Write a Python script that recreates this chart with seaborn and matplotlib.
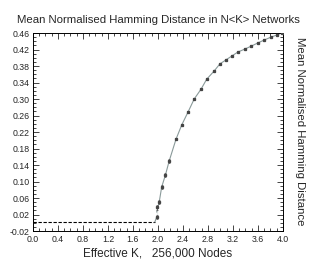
import numpy as np
import pandas as pd
import matplotlib
matplotlib.use("Agg")
import matplotlib.pyplot as plt
import seaborn as sns
from matplotlib.ticker import MultipleLocator

# Data
flat_k = [0.0, 0.4, 0.8, 1.2, 1.6, 1.95]
flat_d = [0.002, 0.002, 0.002, 0.002, 0.002, 0.002]

curve_k = [1.98, 1.98, 2.02, 2.06, 2.12, 2.18, 2.29, 2.38, 2.48, 2.58, 2.69, 2.78,
           2.90, 2.99, 3.09, 3.18, 3.28, 3.39, 3.49, 3.60, 3.70, 3.81, 3.90, 3.98]
curve_d = [0.014, 0.038, 0.050, 0.087, 0.116, 0.150, 0.203, 0.237, 0.268, 0.300,
           0.324, 0.348, 0.368, 0.385, 0.395, 0.404, 0.414, 0.421, 0.428, 0.436,
           0.443, 0.450, 0.455, 0.460]
curve_err = [0.004, 0.006, 0.005, 0.005, 0.004, 0.004, 0.003, 0.003, 0.002, 0.002,
             0.002, 0.002, 0.002, 0.002, 0.002, 0.002, 0.002, 0.002, 0.002, 0.002,
             0.002, 0.002, 0.002, 0.002]

xtick_vals = [0.0, 0.4, 0.8, 1.2, 1.6, 2.0, 2.4, 2.8, 3.2, 3.6, 4.0]
ytick_vals = [-0.02, 0.02, 0.06, 0.10, 0.14, 0.18, 0.22, 0.26, 0.30, 0.34, 0.38, 0.42, 0.46]

title = "Mean Normalised Hamming Distance in N<K> Networks"
xlabel = "Effective K,   256,000 Nodes"
ylabel = "Mean Normalised Hamming Distance"

sns.set_theme(style="ticks")
plt.rcParams['font.family'] = ['Liberation Sans', 'DejaVu Sans']

fig = plt.figure(figsize=(3.14, 2.62), dpi=100)
ax = fig.add_axes([0.105, 0.118, 0.796, 0.756])

flat = pd.DataFrame({"k": flat_k, "d": flat_d})
curve = pd.DataFrame({"k": curve_k, "d": curve_d, "e": curve_err})

sns.lineplot(data=flat, x="k", y="d", ax=ax, color="black", lw=0.8,
             linestyle=(0, (3, 1.5)))
sns.lineplot(data=curve, x="k", y="d", ax=ax, color="#8a9a9a", lw=0.8, sort=False)
ax.errorbar(curve["k"], curve["d"], yerr=curve["e"], fmt="s", ms=1.4,
            color="#444444", ecolor="#555555", elinewidth=0.5, capsize=1.0,
            capthick=0.5, zorder=3)
ax.plot([1.95, 1.98], [0.002, 0.014], color="#8a9a9a", lw=0.8)

ax.set_xlim(0, 4.0)
ax.set_ylim(-0.02, 0.46)
ax.xaxis.set_minor_locator(MultipleLocator(0.1))
ax.yaxis.set_minor_locator(MultipleLocator(0.01))
ax.set_xticks(xtick_vals)
ax.set_xticklabels([f"{v:.1f}" for v in xtick_vals])
ax.set_yticks(ytick_vals)
ax.set_yticklabels([f"{v:.2f}" for v in ytick_vals])
ax.tick_params(which="both", direction="in", top=True, right=True,
               labelsize=6.3, width=0.6, pad=2.5)
ax.tick_params(which="major", length=4)
ax.tick_params(which="minor", length=2)
for s in ax.spines.values():
    s.set_linewidth(0.7)
    s.set_color("black")

ax.set_xlabel(xlabel, fontsize=8.5, labelpad=3)
ax.set_ylabel("")
ax.set_title(title, fontsize=8.2, pad=7)
fig.text(0.955, 0.5, ylabel, rotation=-90, ha="center", va="center", fontsize=8.2)

fig.savefig("out.png", dpi=100)
